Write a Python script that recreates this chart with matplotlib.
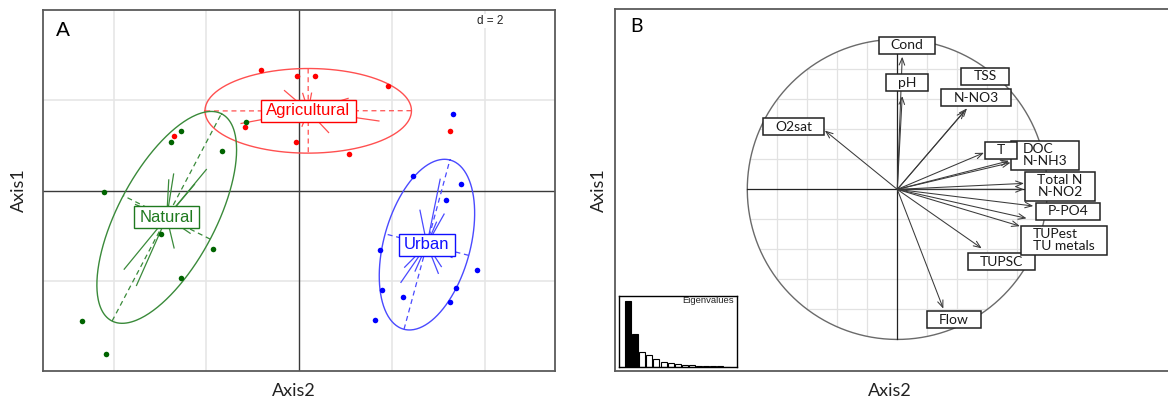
import numpy as np
import matplotlib
matplotlib.use("Agg")
import matplotlib.pyplot as plt
from matplotlib.patches import Rectangle

# ---------------- data ----------------
groups = ["Agricultural", "Natural", "Urban"]
agri_x = [-0.83, -0.044, 0.335, 1.91, -1.18, -2.70, -0.073, 1.07, 3.24]
agri_y = [2.665, 2.54, 2.55, 2.32, 1.42, 1.21, 1.09, 0.81, 1.32]
nat_x = [-1.15, -2.56, -2.77, -1.66, -4.20, -2.99, -1.85, -2.54, -4.69, -4.16]
nat_y = [1.53, 1.33, 1.07, 0.87, -0.02, -0.95, -1.29, -1.94, -2.88, -3.60]
urb_x = [3.32, 2.45, 3.49, 3.16, 1.74, 3.83, 1.79, 2.24, 3.37, 3.24, 1.63]
urb_y = [1.70, 0.33, 0.16, -0.20, -1.30, -1.76, -2.19, -2.36, -2.16, -2.46, -2.86]

var_names = ["Cond", "pH", "N-NO3", "TSS", "O2sat", "DOC", "N-NH3", "T",
             "Total N", "N-NO2", "P-PO4", "TUPSC", "TUPest", "TU metals", "Flow"]
load_x = [0.033, 0.033, 0.450, 0.465, -0.483, 0.745, 0.755, 0.578,
          0.845, 0.845, 0.907, 0.563, 0.862, 0.818, 0.307]
load_y = [0.884, 0.622, 0.525, 0.540, 0.392, 0.190, 0.178, 0.244,
          0.040, 0.000, -0.111, -0.393, -0.193, -0.245, -0.795]

box_labels = ["Cond", "pH", "N-NO3", "TSS", "O2sat", "DOC\nN-NH3", "T",
              "Total N\nN-NO2", "TUPSC", "P-PO4", "TUPest\nTU metals", "Flow"]
box_x = [0.065, 0.065, 0.525, 0.585, -0.690, 0.985, 0.691,
         1.085, 0.695, 1.138, 1.111, 0.377]
box_y = [0.962, 0.709, 0.612, 0.755, 0.418, 0.229, 0.262,
         0.022, -0.483, -0.145, -0.338, -0.868]

eigenvalues = [6.43, 3.17, 1.47, 1.21, 0.78, 0.49, 0.39, 0.29, 0.23,
               0.16, 0.13, 0.10, 0.065, 0.05, 0.03]

# ---------------- layout ----------------
W, H = 1168, 404
fig = plt.figure(figsize=(W / 100, H / 100), dpi=100)


def px_rect(l, t, r, b):
    return [l / W, 1 - b / H, (r - l) / W, (b - t) / H]


frame_col = "#5a5a5a"
BFONT = "Lato"
AFONT = "Liberation Sans"

# ================= Panel A =================
axA = fig.add_axes(px_rect(43.3, 10, 555.3, 370.7))
axA.set_xlim(-5.517, 5.517)
axA.set_ylim(-3.98, 4.0)
axA.set_xticks([]); axA.set_yticks([])
for s in axA.spines.values():
    s.set_color(frame_col); s.set_linewidth(1.3)
for gx in [-4, -2, 2, 4]:
    axA.axvline(gx, color="#e6e6e6", lw=1.2, zorder=0)
for gy in [-2, 2]:
    axA.axhline(gy, color="#e6e6e6", lw=1.2, zorder=0)
axA.axvline(0, color="#3a3a3a", lw=1.0, zorder=1)
axA.axhline(0, color="#3a3a3a", lw=1.0, zorder=1)

group_data = [(agri_x, agri_y), (nat_x, nat_y), (urb_x, urb_y)]
pt_cols = ["#ff0000", "#006400", "#0000ff"]
line_cols = ["#ff5050", "#3a8a3a", "#4a4aff"]
txt_cols = ["#ff0000", "#1f7a1f", "#1010ff"]
cell = 1.35
cstar = 0.5
t = np.linspace(0, 2 * np.pi, 300)
centroids = []
for (gx, gy), pc, lc in zip(group_data, pt_cols, line_cols):
    x = np.array(gx); y = np.array(gy)
    mx, my = x.mean(), y.mean()
    centroids.append((mx, my))
    cov = np.cov(x, y, bias=True)
    vals, vecs = np.linalg.eigh(cov)
    a1 = cell * np.sqrt(vals[1]); a2 = cell * np.sqrt(vals[0])
    e1 = vecs[:, 1]; e2 = vecs[:, 0]
    ex = mx + a1 * np.cos(t) * e1[0] + a2 * np.sin(t) * e2[0]
    ey = my + a1 * np.cos(t) * e1[1] + a2 * np.sin(t) * e2[1]
    axA.plot(ex, ey, color=lc, lw=1.0, zorder=2)
    for a, e in [(a1, e1), (a2, e2)]:
        axA.plot([mx - a * e[0], mx + a * e[0]], [my - a * e[1], my + a * e[1]],
                 color=lc, lw=0.9, ls=(0, (4, 3)), zorder=2)
    for px, py in zip(x, y):
        axA.plot([mx, mx + cstar * (px - mx)], [my, my + cstar * (py - my)],
                 color=lc, lw=0.9, zorder=2)
    axA.plot(x, y, "o", ms=4.0, color=pc, mec="none", zorder=4)

a_texts = []
for name, (mx, my), tc in zip(groups, centroids, txt_cols):
    tt = axA.text(mx, my, name, ha="center", va="center", fontsize=12,
                  color=tc, family=AFONT, zorder=7)
    a_texts.append((tt, tc))

axA.text(4.12, 3.76, "d = 2", ha="center", va="center", fontsize=8.5,
         family=AFONT, color="#222222",
         bbox=dict(boxstyle="square,pad=0.1", fc="white", ec="none"))

# ================= Panel B =================
axB = fig.add_axes(px_rect(615, 9, 1180, 370.5))
axB.set_xlim(-1.882, 1.885)
axB.set_ylim(-1.207, 1.202)
axB.set_xticks([]); axB.set_yticks([])
for s in axB.spines.values():
    s.set_color(frame_col); s.set_linewidth(1.3)

for g in np.arange(-0.8, 0.81, 0.2):
    if abs(g) < 1e-9:
        continue
    h = np.sqrt(1 - g * g)
    axB.plot([g, g], [-h, h], color="#e2e2e2", lw=0.9, zorder=0)
    axB.plot([-h, h], [g, g], color="#e2e2e2", lw=0.9, zorder=0)
axB.plot(np.cos(t), np.sin(t), color="#6a6a6a", lw=1.0, zorder=1)
axB.plot([-1, 1], [0, 0], color="#222222", lw=0.9, zorder=1)
axB.plot([0, 0], [-1, 1], color="#222222", lw=0.9, zorder=1)

for vx, vy in zip(load_x, load_y):
    axB.annotate("", xy=(vx, vy), xytext=(0, 0),
                 arrowprops=dict(arrowstyle="->,head_length=0.5,head_width=0.2",
                                 color="#3a3a3a", lw=0.75, shrinkA=0, shrinkB=0),
                 zorder=3)

b_texts = []
for i, (lab, bx, by) in enumerate(zip(box_labels, box_x, box_y)):
    tt = axB.text(bx, by, lab, ha="center", va="center", fontsize=10,
                  family=BFONT, color="#1a1a1a", multialignment="left",
                  linespacing=1.0, zorder=6 + 2 * i)
    b_texts.append(tt)

# panel letters & axis titles
fig.text(62.5 / W, 1 - 30.5 / H, "A", fontsize=15, family=AFONT,
         ha="center", va="center")
fig.text(636 / W, 1 - 27 / H, "B", fontsize=14, family=BFONT,
         ha="center", va="center")
for xc in [294, 890]:
    fig.text(xc / W, 1 - 391 / H, "Axis2", fontsize=13, family=BFONT,
             ha="center", va="center", color="#222222")
for xc in [18.5, 598.5]:
    fig.text(xc / W, 1 - 190 / H, "Axis1", fontsize=13, family=BFONT,
             ha="center", va="center", rotation=90, color="#222222")

# ================= Eigenvalue inset =================
axE = fig.add_axes(px_rect(619, 296, 737, 367))
axE.set_xticks([]); axE.set_yticks([])
for s in axE.spines.values():
    s.set_color("black"); s.set_linewidth(1.0)
n = len(eigenvalues)
pos = np.arange(n)
fcs = ["black" if i < 2 else "white" for i in range(n)]
axE.bar(pos, eigenvalues, width=0.85, color=fcs, edgecolor="black", linewidth=0.8)
axE.set_xlim(-1.3, n + 0.4)
axE.set_ylim(0, eigenvalues[0] * 1.07)
axE.text(0.97, 0.93, "Eigenvalues", transform=axE.transAxes, ha="right",
         va="center", fontsize=6.8, family=AFONT, color="#222222")

# ------------- boxes behind texts (computed from text extents) -------------
fig.canvas.draw()
renderer = fig.canvas.get_renderer()


def box_behind(ax, tt, padx, pady, ec, lw, z):
    bb = tt.get_window_extent(renderer)
    inv = ax.transData.inverted()
    (x0, y0) = inv.transform((bb.x0 - padx, bb.y0 - pady))
    (x1, y1) = inv.transform((bb.x1 + padx, bb.y1 + pady))
    ax.add_patch(Rectangle((x0, y0), x1 - x0, y1 - y0, fc="white", ec=ec,
                           lw=lw, zorder=z))


for tt, tc in a_texts:
    box_behind(axA, tt, 5.5, 3.5, tc, 1.0, 6)
for i, tt in enumerate(b_texts):
    box_behind(axB, tt, 12, 2.5, "#222222", 1.1, 5 + 2 * i)

fig.savefig("out.png", dpi=100)
